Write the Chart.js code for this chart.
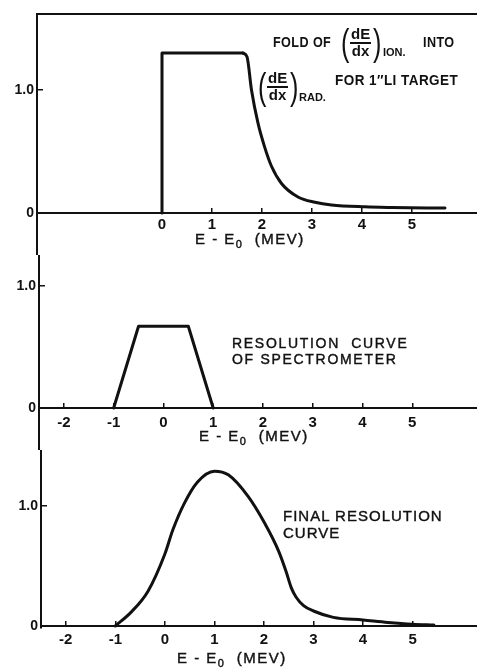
<!DOCTYPE html>
<html>
<head>
<meta charset="utf-8">
<script src="https://cdn.jsdelivr.net/npm/chart.js@4.4.1/dist/chart.umd.min.js"></script>
<style>
  body { margin: 0; background: #fff; }
  #page { position: relative; width: 477px; height: 669px; background: #fff; overflow: hidden;
          font-family: 'Liberation Sans', Arial, sans-serif; color: #111; }
  canvas { position: absolute; left: 0; }
  .txt { position: absolute; white-space: nowrap; font-size: 15px; line-height: 15px; letter-spacing: 1px;
         -webkit-text-stroke: 0.4px #111; transform-origin: 0 0; }
  .bold { font-weight: bold; letter-spacing: 0.5px; -webkit-text-stroke: 0; }
  .sub { position: absolute; white-space: nowrap; font-size: 11px; line-height: 11px; font-weight: bold; }
  .frac { position: absolute; display: flex; align-items: center; height: 33px; }
  .paren { display: inline-block; font-size: 36px; line-height: 33px; width: 8px; transform: scaleX(0.7); transform-origin: 0 50%; }
  .fr { display: flex; flex-direction: column; align-items: center; font-size: 15px; line-height: 14px; font-weight: bold; margin: 0 2px 0 1px; }
  .fr .num { border-bottom: 2px solid #111; padding: 0 1px 1px; }
  .title { letter-spacing: 1.5px; }
  .title sub { font-size: 11px; vertical-align: -4px; line-height: 0; }
</style>
</head>
<body>
<div id="page">
  <canvas id="c1" width="477" height="255" style="top:0"></canvas>
  <canvas id="c2" width="477" height="195" style="top:255px"></canvas>
  <canvas id="c3" width="477" height="219" style="top:450px"></canvas>

  <div class="txt bold" style="left:273px; top:34px; transform:scaleX(0.84)">FOLD OF</div>
  <div class="frac" style="left:341px; top:26px"><span class="paren">(</span><span class="fr"><span class="num">dE</span><span>dx</span></span><span class="paren">)</span></div>
  <div class="sub" style="left:383px; top:47px">ION.</div>
  <div class="txt bold" style="left:423px; top:34px; transform:scaleX(0.84)">INTO</div>
  <div class="frac" style="left:258px; top:70px"><span class="paren">(</span><span class="fr"><span class="num">dE</span><span>dx</span></span><span class="paren">)</span></div>
  <div class="sub" style="left:299px; top:92px">RAD.</div>
  <div class="txt bold" style="left:335px; top:72px; transform:scaleX(0.9)">FOR 1″LI TARGET</div>

  <div class="txt" style="left:232px; top:336px; font-size:14px; line-height:14px; letter-spacing:1.7px">RESOLUTION&nbsp; CURVE</div>
  <div class="txt" style="left:232px; top:352px; font-size:14px; line-height:14px; letter-spacing:1.7px">OF SPECTROMETER</div>

  <div class="txt" style="left:283px; top:508px">FINAL RESOLUTION</div>
  <div class="txt" style="left:283px; top:525px">CURVE</div>

  <div class="txt title" style="left:195px; top:231px">E - E<sub>0</sub>&nbsp; (MEV)</div>
  <div class="txt title" style="left:199px; top:428px">E - E<sub>0</sub>&nbsp; (MEV)</div>
  <div class="txt title" style="left:177px; top:650px">E - E<sub>0</sub>&nbsp; (MEV)</div>
</div>
<script>
// (dE/dx) folded curve, E-E0 in MeV
const foldStepX = [0, 0, 1.62];
const foldStepY = [0, 1.3, 1.3];
const foldTailX = [1.62, 1.70, 1.79, 1.92, 2.05, 2.19, 2.39, 2.72, 3.06, 3.39, 4.06, 4.6, 5.66];
const foldTailY = [1.3, 1.27, 1.0, 0.73, 0.54, 0.38, 0.24, 0.13, 0.087, 0.065, 0.05, 0.045, 0.04];

// spectrometer resolution (trapezoid)
const resX = [-1, -0.5, 0.5, 1];
const resY = [0, 0.67, 0.67, 0];

// final resolution curve
const finalX = [-1, -0.67, -0.34, 0, 0.16, 0.39, 0.66, 1.0, 1.28, 1.68, 2.01, 2.3, 2.45, 2.55, 2.65, 2.8, 3.0, 3.4, 4.0, 4.5, 5.0, 5.43];
const finalY = [0, 0.12, 0.29, 0.6, 0.8, 1.02, 1.2, 1.29, 1.26, 1.08, 0.86, 0.62, 0.45, 0.32, 0.24, 0.17, 0.125, 0.072, 0.05, 0.03, 0.015, 0.008];

const xTicksTop = [0, 1, 2, 3, 4, 5];
const xTicksAll = [-2, -1, 0, 1, 2, 3, 4, 5];
const yTicks = [0, 1];

const ink = '#111';
const tickFont = { family: 'Liberation Sans', size: 15, weight: 'bold' };

const pts = (xs, ys) => xs.map((x, i) => ({ x: x, y: ys[i] }));

// keep the axes from eating layout space so the plot area is exactly what we ask for
const flatX = (s) => { s.height = 0; s.paddingLeft = 0; s.paddingRight = 0; };

function makePanel(id, datasets, p) {
  const scales = {
    x: {
      type: 'linear', min: -2.5, max: 6.3, position: { y: 0 },
      afterFit: flatX,
      afterBuildTicks: (s) => { s.ticks = p.xTicks.map((v) => ({ value: v })); },
      grid: { drawOnChartArea: false, tickLength: -6, color: ink, lineWidth: 1.5 },
      border: { color: ink, width: 2 },
      ticks: { color: ink, font: tickFont, padding: p.xPad, maxRotation: 0,
               callback: (v) => String(v) },
    },
    y: {
      type: 'linear', min: p.yMin, max: p.yMax,
      afterFit: (s) => { s.width = p.left; s.paddingTop = 0; s.paddingBottom = 0; },
      afterBuildTicks: (s) => { s.ticks = yTicks.map((v) => ({ value: v })); },
      grid: { drawOnChartArea: false, tickLength: -6, color: ink, lineWidth: 1.5 },
      border: { color: ink, width: 2 },
      ticks: { color: ink, font: { family: 'Liberation Sans', size: 14, weight: 'bold' }, padding: 9,
               callback: (v) => (v === 0 ? '0' : '1.0') },
    },
  };
  if (p.topBorder) {
    scales.xt = {
      type: 'linear', position: 'top', min: 0, max: 1,
      afterFit: flatX,
      grid: { display: false }, ticks: { display: false },
      border: { color: ink, width: 2 },
    };
  }
  new Chart(document.getElementById(id), {
    type: 'line',
    data: { datasets: datasets },
    options: {
      responsive: false,
      animation: false,
      layout: { padding: { top: p.padTop, bottom: p.padBottom, left: 0, right: 0 } },
      plugins: { legend: { display: false }, tooltip: { enabled: false } },
      scales: scales,
    },
  });
}

const lineStyle = { borderColor: ink, borderWidth: 3, pointRadius: 0, fill: false,
                    borderJoinStyle: 'round', borderCapStyle: 'round' };

makePanel('c1', [
  Object.assign({ data: pts(foldStepX, foldStepY), tension: 0 }, lineStyle),
  Object.assign({ data: pts(foldTailX, foldTailY), cubicInterpolationMode: 'monotone' }, lineStyle),
], { xTicks: xTicksTop, left: 37, yMin: -42 / 123, yMax: 199 / 123, padTop: 14, padBottom: 0, xPad: 9, topBorder: true });

makePanel('c2', [
  Object.assign({ data: pts(resX, resY), tension: 0 }, lineStyle),
], { xTicks: xTicksAll, left: 39, yMin: -42 / 122, yMax: 153 / 122, padTop: 0, padBottom: 0, xPad: 12 });

makePanel('c3', [
  Object.assign({ data: pts(finalX, finalY), cubicInterpolationMode: 'monotone' }, lineStyle),
], { xTicks: xTicksAll, left: 41, yMin: -2 / 120, yMax: 176 / 120, padTop: 0, padBottom: 41, xPad: 11 });
</script>
</body>
</html>
